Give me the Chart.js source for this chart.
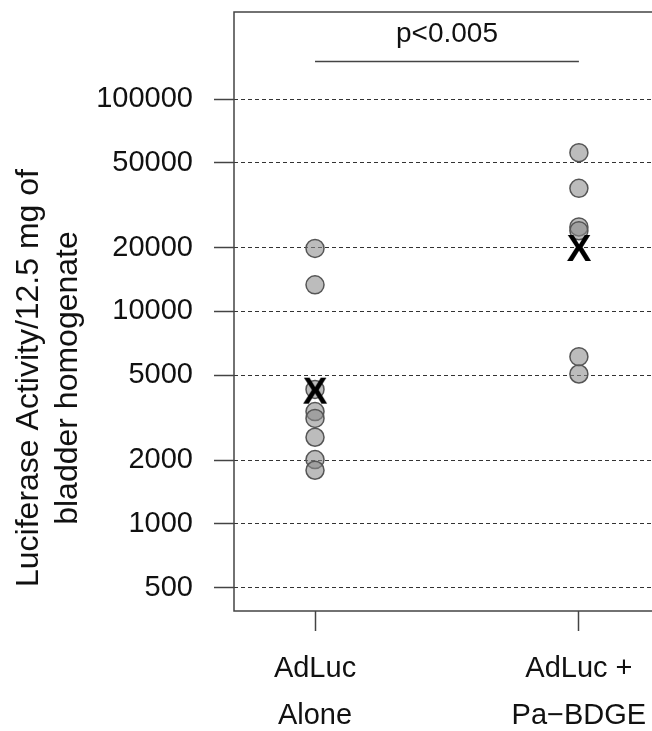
<!DOCTYPE html>
<html><head><meta charset="utf-8">
<script src="https://cdn.jsdelivr.net/npm/chart.js@4"></script>
<style>html,body{margin:0;padding:0;background:#fff}#wrap{width:652px;height:731px}</style>
</head><body><div id="wrap"><canvas id="c" width="652" height="731"></canvas></div>
<script>
const groupLabels = [['AdLuc', 'Alone'], ['AdLuc +', 'Pa\u2212BDGE']];
const groupPositions = [1, 2];
const adlucAlone = [19800, 13350, 4300, 3380, 3140, 2560, 2010, 1790];
const adlucPaBdge = [55900, 38000, 25000, 24000, 6130, 5080];
const groupMarks = [4240, 19900];
const yTicks = [500, 1000, 2000, 5000, 10000, 20000, 50000, 100000];
const yTitleLines = ['Luciferase Activity/12.5 mg of', 'bladder homogenate'];
const pLabel = 'p<0.005';
const pBarValue = 150000;

const FONT = "'Liberation Sans', Arial, Helvetica, sans-serif";
const INK = '#111';

// "X" glyph used as point style for the group marks
const xGlyph = document.createElement('canvas');
xGlyph.width = 30; xGlyph.height = 32;
(function () {
  const g = xGlyph.getContext('2d');
  g.fillStyle = '#000';
  g.font = 'bold 37px ' + FONT;
  g.textAlign = 'center';
  g.textBaseline = 'alphabetic';
  g.fillText('X', 15, 16 + 0.716 * 37 / 2);
})();

const boxAndText = {
  id: 'boxAndText',
  beforeDatasetsDraw(chart) {
    const {ctx, chartArea: a} = chart;
    ctx.save();
    ctx.strokeStyle = '#444';
    ctx.lineWidth = 1.5;
    ctx.beginPath();
    ctx.moveTo(a.right + 2, a.top);
    ctx.lineTo(a.left, a.top);
    ctx.lineTo(a.left, a.bottom);
    ctx.lineTo(a.right + 2, a.bottom);
    ctx.stroke();
    ctx.restore();
  },
  afterDraw(chart) {
    const {ctx} = chart;
    const xs = chart.scales.x, ys = chart.scales.y;
    ctx.save();
    ctx.fillStyle = INK;
    ctx.font = '28px ' + FONT;
    ctx.textAlign = 'center';
    ctx.textBaseline = 'alphabetic';
    ctx.fillText(pLabel, xs.getPixelForValue((groupPositions[0] + groupPositions[1]) / 2), ys.getPixelForValue(pBarValue) - 20);
    ctx.font = '32px ' + FONT;
    const baselines = [38, 77];
    yTitleLines.forEach((t, i) => {
      ctx.save();
      ctx.translate(baselines[i], 378);
      ctx.rotate(-Math.PI / 2);
      ctx.fillText(t, 0, 0);
      ctx.restore();
    });
    ctx.restore();
  }
};

const circleStyle = {
  pointRadius: 9,
  pointHoverRadius: 9,
  pointBackgroundColor: 'rgba(140,140,140,0.58)',
  pointBorderColor: '#555',
  pointBorderWidth: 1.5,
  showLine: false,
  order: 1
};

new Chart(document.getElementById('c'), {
  type: 'scatter',
  data: {
    datasets: [
      Object.assign({label: 'AdLuc Alone', data: adlucAlone.map(v => ({x: groupPositions[0], y: v}))}, circleStyle),
      Object.assign({label: 'AdLuc + Pa-BDGE', data: adlucPaBdge.map(v => ({x: groupPositions[1], y: v}))}, circleStyle),
      {
        label: 'marks',
        data: groupMarks.map((v, i) => ({x: groupPositions[i], y: v})),
        pointStyle: xGlyph,
        pointRadius: 15,
        pointHoverRadius: 15,
        showLine: false,
        order: 0
      },
      {
        type: 'line',
        label: 'p',
        data: groupPositions.map(x => ({x, y: pBarValue})),
        borderColor: '#444',
        borderWidth: 1.5,
        pointRadius: 0,
        showLine: true,
        fill: false,
        order: 2
      }
    ]
  },
  options: {
    responsive: false,
    animation: false,
    devicePixelRatio: 1,
    layout: {autoPadding: false, padding: {top: 12, left: 0, right: 0, bottom: 0}},
    plugins: {legend: {display: false}, tooltip: {enabled: false}, title: {display: false}},
    scales: {
      x: {
        type: 'linear',
        min: 0.693,
        max: 2.277,
        afterFit(s) { s.height = 120; s.paddingLeft = 0; s.paddingRight = 0; },
        afterBuildTicks(s) { s.ticks = groupPositions.map(v => ({value: v})); },
        ticks: {
          callback: v => { const i = groupPositions.indexOf(v); return i >= 0 ? groupLabels[i] : ''; },
          font: {size: 29, family: FONT, lineHeight: 1.62},
          color: INK,
          padding: 15,
          autoSkip: false,
          maxRotation: 0
        },
        grid: {drawOnChartArea: false, drawTicks: true, tickLength: 20, tickColor: '#444', tickWidth: 1.5},
        border: {display: false}
      },
      y: {
        type: 'logarithmic',
        min: 389.5,
        max: 256700,
        afterFit(s) { s.width = 234; s.paddingTop = 0; s.paddingBottom = 0; },
        afterBuildTicks(s) { s.ticks = yTicks.map(v => ({value: v})); },
        ticks: {
          callback: v => String(v),
          font: {size: 29, family: FONT},
          color: INK,
          padding: 21,
          autoSkip: false
        },
        grid: {color: '#333', lineWidth: 1, drawTicks: true, tickLength: 20, tickColor: '#444', tickWidth: 1.5, tickBorderDash: []},
        border: {display: false, dash: [4, 3]}
      }
    }
  },
  plugins: [boxAndText]
});
</script>
</body></html>
